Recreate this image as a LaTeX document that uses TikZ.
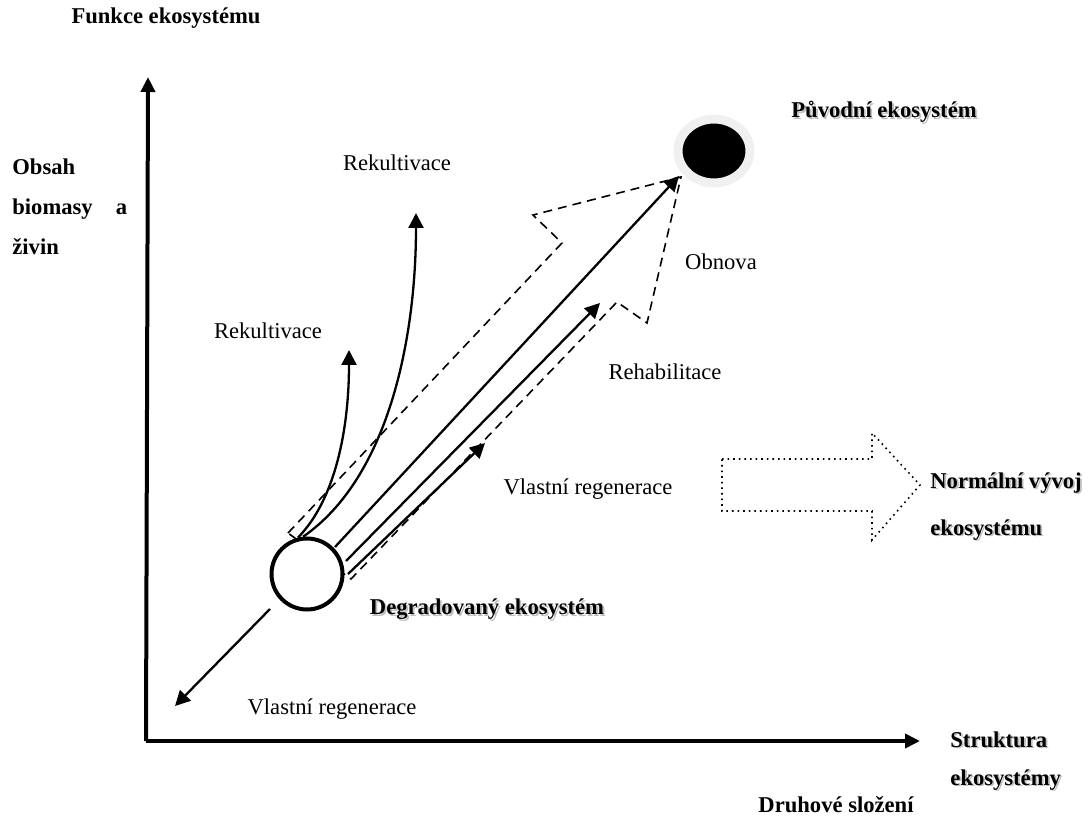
\documentclass[tikz,border=0pt]{standalone}
\usepackage{fontspec}
\setmainfont{Liberation Serif}
\usetikzlibrary{arrows.meta,shapes.geometric,shadows}
\newcommand\shtext[1]{\rlap{\textcolor{black!25}{\hspace{0.9pt}\raisebox{-0.9pt}{#1}}}#1}
\tikzset{
  lbl/.style={inner sep=0pt, font=\fontsize{11.3}{20}\selectfont},
  blbl/.style={inner sep=0pt, font=\fontsize{11.3}{20}\selectfont\bfseries},
  axis/.style={line width=2pt, -{Triangle[length=7.5pt,width=7pt]}},
  arr/.style={line width=1.15pt, -{Triangle[length=7.5pt,width=7.5pt]}},
  dsh/.style={line width=0.8pt, dash pattern=on 4.5pt off 3pt},
}
\begin{document}
\begin{tikzpicture}[x=0.5pt,y=-0.5pt]
\useasboundingbox (0,0) rectangle (1091,817);

% axes
\coordinate (O) at (146,741);
\coordinate (ytip) at (148,77);
\coordinate (xtip) at (920,741);
\draw[axis] (O) -- (ytip);
\draw[axis] (O) -- (xtip);

% axis labels
\node[blbl] (funkce) at (166,18) {Funkce ekosystému};
\node[blbl, anchor=north west, align=left] (obsah) at (12,158) {Obsah\\biomasy\hspace*{11.5pt}a\\živin};
\node[blbl, anchor=north west, align=left, font=\fontsize{11.3}{19}\selectfont\bfseries] (struktura) at (950,731) {\shtext{Struktura}\\\shtext{ekosystémy}};
\node[blbl] (druhove) at (836,805) {Druhové složení};

% dashed block arrow (Obnova)
\draw[dsh] (288,533) -- (562,243) -- (533,215) -- (681,177) -- (647,323) -- (617,302) -- (351,579) -- cycle;

% original ecosystem
\node[ellipse, draw=black!6, line width=4.5pt, fill=black, minimum width=36pt, minimum height=32pt, inner sep=0pt,
      drop shadow={shadow xshift=1.2pt, shadow yshift=-1.2pt, fill=black!12}] (orig) at (714,151) {};
% degraded ecosystem
\node[circle, draw, line width=2pt, fill=white, minimum size=35.5pt, inner sep=0pt] (deg) at (307,574) {};

% coordinates for free ends
\coordinate (a1s) at (335,547);
\coordinate (a1e) at (679,176);
\coordinate (a2s) at (346,561);
\coordinate (a2e) at (600,303);
\coordinate (a3s) at (348,574);
\coordinate (a3e) at (485,443);
\coordinate (c1e) at (416,213);
\coordinate (c2e) at (349,350);
\coordinate (bs) at (270,609);
\coordinate (be) at (175,706);

\draw[arr] (a1s) -- (a1e);
\draw[arr] (a2s) -- (a2e);
\draw[arr] (a3s) -- (a3e);
\draw[arr] (deg.96) .. controls (388,478) and (416,340) .. (c1e);
\draw[arr] (deg.104) .. controls (335,500) and (349,430) .. (c2e);
\draw[arr] (bs) -- (be);

% dotted block arrow
\draw[line width=0.8pt, dotted] (722,459) -- (872,459) -- (872,433) -- (920,485) -- (872,540) -- (872,511) -- (722,511) -- cycle;

% labels
\node[lbl] (rek1) at (397,163) {Rekultivace};
\node[lbl] (rek2) at (268,331) {Rekultivace};
\node[lbl] (obnova) at (721,262) {Obnova};
\node[lbl] (rehab) at (665,372) {Rehabilitace};
\node[lbl] (vr1) at (588,489) {Vlastní regenerace};
\node[lbl] (vr2) at (332,709) {Vlastní regenerace};
\node[blbl] (degl) at (487,610) {\shtext{Degradovaný ekosystém}};
\node[blbl] (origl) at (884,113) {\shtext{Původní ekosystém}};
\node[blbl, anchor=north west, align=left, font=\fontsize{11.3}{23.5}\selectfont\bfseries] (norm) at (930,472) {\shtext{Normální vývoj}\\\shtext{ekosystému}};
\end{tikzpicture}
\end{document}
